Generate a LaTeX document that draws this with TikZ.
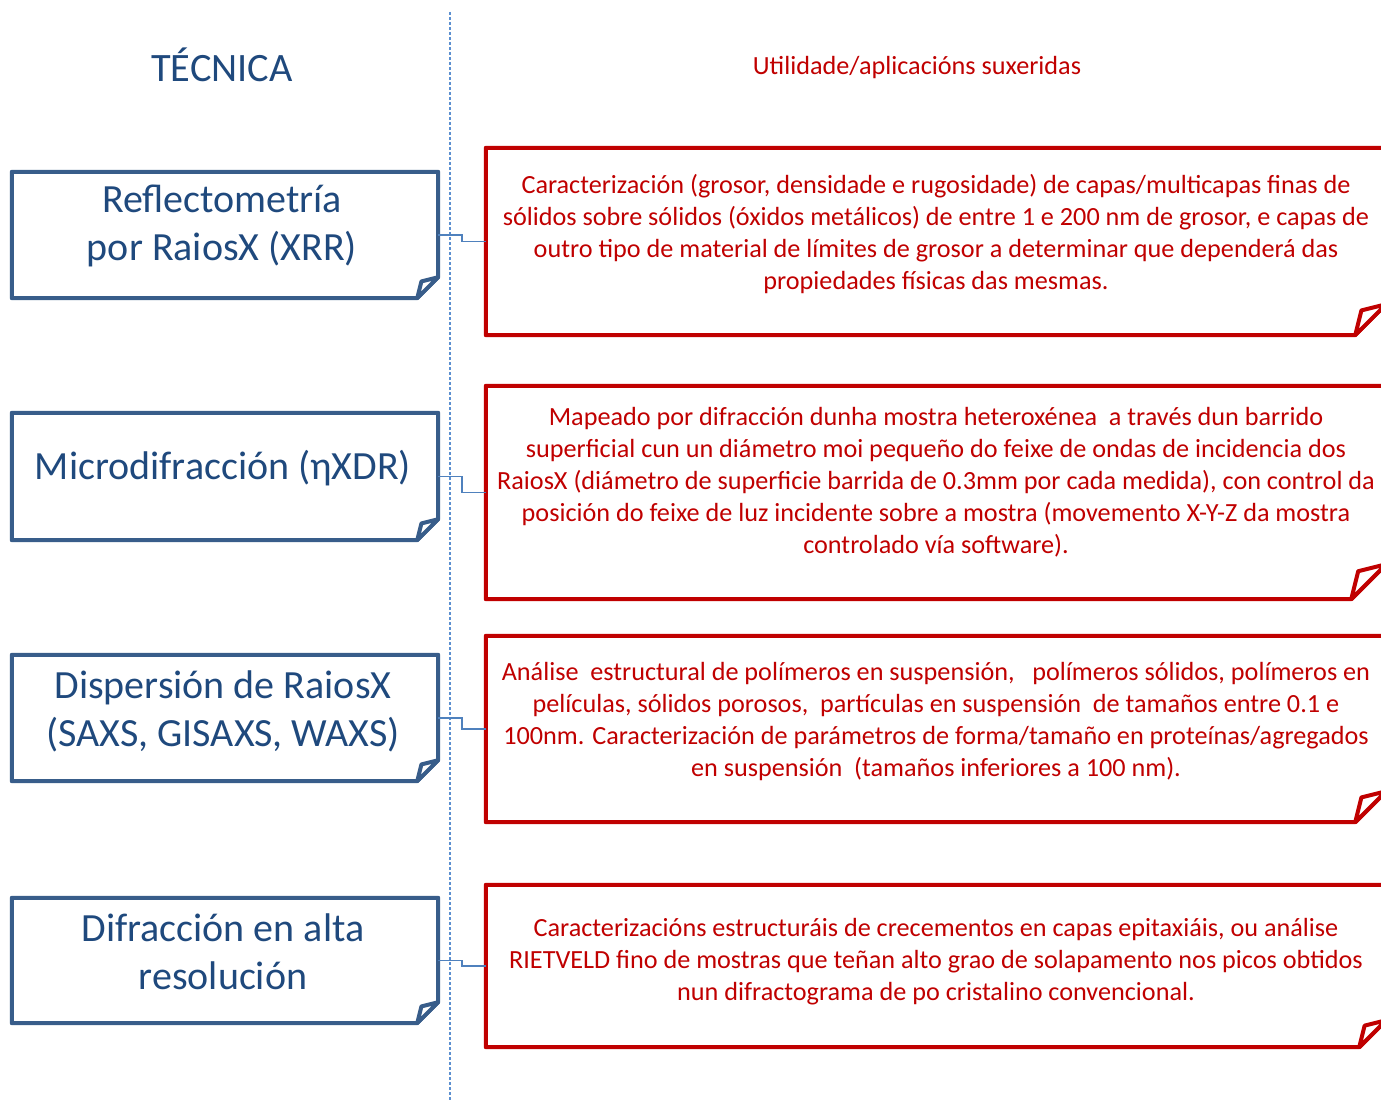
\documentclass[tikz,border=0pt]{standalone}
\usepackage{fontspec}
\setmainfont{Carlito}
\usetikzlibrary{calc}
\definecolor{boxblue}{RGB}{56,93,138}
\definecolor{txtblue}{RGB}{31,73,125}
\definecolor{dred}{RGB}{192,0,0}
\definecolor{dashblue}{RGB}{91,143,208}
\definecolor{conblue}{RGB}{79,129,189}
% folded-corner outline drawn around a named node: #1 node, #2 fold size, #3 colour
\newcommand\foldedbox[3]{%
  \draw[#3, line width=4pt, line join=round]
    ($(#1.north west)$) -- (#1.north east) -- ($(#1.south east)+(0,-#2)$)
    -- ($(#1.south east)+(-#2,0)$) -- (#1.south west) -- cycle;
  \draw[#3, fill=white, line width=4pt, line join=round]
    ($(#1.south east)+(-#2,0)$) -- ($(#1.south east)+(-#2,0)+(0.2*#2,-0.8*#2)$)
    -- ($(#1.south east)+(0,-#2)$) -- cycle;
}
\begin{document}
\begin{tikzpicture}[x=1pt,y=-1pt,
  lshape/.style={draw=none, minimum width=426pt, inner sep=0pt},
  rshape/.style={draw=none, minimum width=900pt, inner sep=0pt},
  ltext/.style={text=txtblue, align=center, inner sep=0pt, font=\fontsize{40}{48}\selectfont},
  rtext/.style={text=dred, align=center, inner sep=0pt, font=\fontsize{26.2}{32}\selectfont},
  link/.style={conblue, line width=1.5pt}]
\useasboundingbox (0,0) rectangle (1381,1102);
\clip (0,0) rectangle (1381,1102);

\draw[dashblue, line width=2pt, dash pattern=on 3pt off 2pt] (450,12) -- (450,1102);

\node[text=txtblue, inner sep=0pt, font=\fontsize{40.3}{46}\selectfont] (head1) at (222,65) {TÉCNICA};
\node[text=dred, inner sep=0pt, font=\fontsize{26.2}{30}\selectfont] (head2) at (917,68) {Utilidade/aplicacións suxeridas};

% left boxes
\node[lshape, minimum height=126pt] (t1) at (225,235) {};
\node[lshape, minimum height=127pt] (t2) at (225,476.5) {};
\node[lshape, minimum height=126pt] (t3) at (225,718) {};
\node[lshape, minimum height=125pt] (t4) at (225,960.5) {};
\foldedbox{t1}{21}{boxblue}
\foldedbox{t2}{21}{boxblue}
\foldedbox{t3}{21}{boxblue}
\foldedbox{t4}{21}{boxblue}
\node[ltext] (l1) at (222,226) {Reflectometría\\por RaiosX (XRR)};
\node[ltext] (l2) at (223,468) {Microdifracción (ηXDR)};
\node[ltext] (l3) at (223,711) {Dispersión de RaiosX\\(SAXS, GISAXS, WAXS)};
\node[ltext] (l4) at (223,952) {Difracción en alta\\resolución};

% right boxes
\node[rshape, minimum height=187pt] (u1) at (936,241.5) {};
\node[rshape, minimum height=213pt] (u2) at (936,492.5) {};
\node[rshape, minimum height=186pt] (u3) at (936,729) {};
\node[rshape, minimum height=162pt] (u4) at (936,966) {};
\foldedbox{u1}{31}{dred}
\foldedbox{u2}{35}{dred}
\foldedbox{u3}{31}{dred}
\foldedbox{u4}{27}{dred}
\node[rtext] (r1) at (936,234) {Caracterización (grosor, densidade e rugosidade) de capas/multicapas finas de\\sólidos sobre sólidos (óxidos metálicos) de entre 1 e 200 nm de grosor, e capas de\\outro tipo de material de límites de grosor a determinar que dependerá das\\propiedades físicas das mesmas.};
\node[rtext] (r2) at (936,482) {Mapeado por difracción dunha mostra heteroxénea\ \ a través dun barrido\\superficial cun un diámetro moi pequeño do feixe de ondas de incidencia dos\\RaiosX (diámetro de superficie barrida de 0.3mm por cada medida), con control da\\posición do feixe de luz incidente sobre a mostra (movemento X-Y-Z da mostra\\controlado vía software).};
\node[rtext] (r3) at (936,722) {Análise\ \ estructural de polímeros en suspensión,\ \ \ polímeros sólidos, polímeros en\\películas, sólidos porosos,\ \ partículas en suspensión\ \ de tamaños entre 0.1 e\\100nm. Caracterización de parámetros de forma/tamaño en proteínas/agregados\\en suspensión\ \ (tamaños inferiores a 100 nm).};
\node[rtext] (r4) at (936,962) {Caracterizacións estructuráis de crecementos en capas epitaxiáis, ou análise\\RIETVELD fino de mostras que teñan alto grao de solapamento nos picos obtidos\\nun difractograma de po cristalino convencional.};

% connectors
\draw[link] (t1.east) -- ++(24,0) |- (u1.west);
\draw[link] (t2.east) -- ++(24,0) |- (u2.west);
\draw[link] (t3.east) -- ++(24,0) |- (u3.west);
\draw[link] (t4.east) -- ++(24,0) |- (u4.west);
\end{tikzpicture}
\end{document}
